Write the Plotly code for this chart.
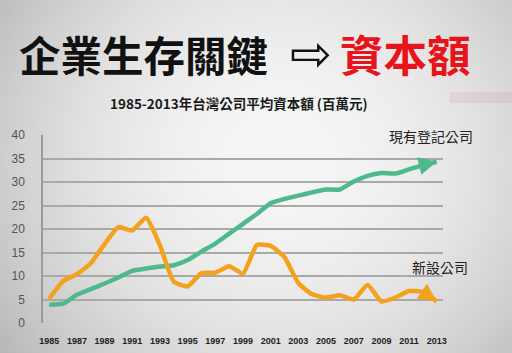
import base64, struct, zlib
import plotly.graph_objects as go

years = list(range(1985, 2014))
registered = [3.9, 4.1, 6.0, 7.2, 8.4, 9.7, 11.1, 11.6, 12.0, 12.3, 13.4, 15.2, 16.9, 19.0,
              21.1, 23.2, 25.5, 26.4, 27.1, 27.8, 28.4, 28.4, 30.1, 31.3, 31.9, 31.8, 32.7, 33.6, 34.3]
new_cos = [5.2, 8.9, 10.4, 12.7, 16.8, 20.4, 19.7, 22.4, 16.5, 8.8, 7.8, 10.6, 10.7, 12.1,
           10.5, 16.6, 16.4, 14.0, 8.5, 6.1, 5.4, 5.9, 5.0, 8.1, 4.6, 5.4, 6.8, 6.6, 4.6]
x_ticks = list(range(1985, 2014, 2))
y_ticks = list(range(0, 45, 5))

title_main = "企業生存關鍵"
title_arrow = "⇨"
title_red = "資本額"
subtitle = "1985-2013年台灣公司平均資本額 (百萬元)"
label_registered = "現有登記公司"
label_new = "新設公司"

GREEN = "#4DB98C"
ORANGE = "#F4A21E"

W, H = 512, 353
ML, MR, MT, MB = 43, 69, 135, 30
PW, PH = W - ML - MR, H - MT - MB


def px(xp):
    return (xp - ML) / PW


def py(yp):
    return (H - MB - yp) / PH


def make_png(w, h):
    rows = []
    for j in range(h):
        y = j / (h - 1)
        row = bytearray([0])
        for i in range(w):
            x = i / (w - 1)
            dx = (x - 0.55) / 0.55
            dy = (y - 0.45) / 0.55
            b = 246 - 40 * dx * dx - 22 * dy * dy
            row.append(max(0, min(255, int(b))))
        rows.append(bytes(row))
    raw = b"".join(rows)

    def chunk(t, d):
        c = struct.pack(">I", len(d)) + t + d
        return c + struct.pack(">I", zlib.crc32(t + d) & 0xFFFFFFFF)

    data = b"\x89PNG\r\n\x1a\n"
    data += chunk(b"IHDR", struct.pack(">IIBBBBB", w, h, 8, 0, 0, 0, 0))
    data += chunk(b"IDAT", zlib.compress(raw, 9))
    data += chunk(b"IEND", b"")
    return "data:image/png;base64," + base64.b64encode(data).decode()


fig = go.Figure()
fig.add_trace(go.Scatter(x=years, y=registered, mode="lines",
                         line=dict(color=GREEN, width=4.5, shape="spline", smoothing=0.5),
                         hoverinfo="skip", showlegend=False))
fig.add_trace(go.Scatter(x=years, y=new_cos, mode="lines",
                         line=dict(color=ORANGE, width=4.5, shape="spline", smoothing=0.5),
                         hoverinfo="skip", showlegend=False))

# arrow heads at series ends
for series, col in ((registered, GREEN), (new_cos, ORANGE)):
    fig.add_annotation(x=years[-1], y=series[-1], ax=years[-2] + 0.5,
                       ay=(series[-2] + series[-1]) / 2, axref="x", ayref="y",
                       xref="x", yref="y", text="", showarrow=True,
                       arrowhead=2, arrowsize=0.9, arrowwidth=4, arrowcolor=col, standoff=0)

fig.add_annotation(x=2012.6, y=39.7, xref="x", yref="y", text=label_registered,
                   showarrow=False, font=dict(family="Noto Sans CJK TC", size=14, color="#222"))
fig.add_annotation(x=2013.2, y=12.0, xref="x", yref="y", text=label_new,
                   showarrow=False, font=dict(family="Noto Sans CJK TC", size=14, color="#222"))

# titles
fig.add_annotation(x=px(17), y=py(54), xref="paper", yref="paper",
                   xanchor="left", yanchor="middle", text="<b>" + title_main + "</b>",
                   showarrow=False, font=dict(family="Noto Sans CJK TC", size=41.5, color="#111"))
fig.add_annotation(x=px(311), y=py(54), xref="paper", yref="paper",
                   xanchor="center", yanchor="middle", text=title_arrow,
                   showarrow=False, font=dict(family="DejaVu Sans", size=50, color="#111"))
fig.add_annotation(x=px(338), y=py(54), xref="paper", yref="paper",
                   xanchor="left", yanchor="middle", text="<b>" + title_red + "</b>",
                   showarrow=False, font=dict(family="Noto Sans CJK TC", size=43.5, color="#E8141B"))
fig.add_annotation(x=px(239), y=py(103), xref="paper", yref="paper",
                   xanchor="center", yanchor="middle", text="<b>" + subtitle + "</b>",
                   showarrow=False, font=dict(family="Noto Sans CJK TC", size=13.5, color="#1a1a1a"))

fig.update_layout(
    width=W, height=H,
    margin=dict(l=ML, r=MR, t=MT, b=MB),
    paper_bgcolor="#e8e8e8", plot_bgcolor="rgba(0,0,0,0)",
    images=[dict(source=make_png(128, 88), xref="paper", yref="paper", x=px(0), y=py(0),
                 sizex=W / PW, sizey=H / PH, xanchor="left", yanchor="top", sizing="stretch",
                 layer="below")],
    shapes=[dict(type="rect", xref="paper", yref="paper", x0=px(450), x1=px(512),
                 y0=py(103), y1=py(92), fillcolor="rgba(215,120,140,0.14)",
                 line=dict(width=0), layer="below")],
    xaxis=dict(range=[1984.55, 2013.45], tickvals=x_ticks, ticktext=[str(t) for t in x_ticks],
               showgrid=False, zeroline=False, showline=False, ticks="", ticklabelstandoff=11,
               automargin=False,
               tickfont=dict(family="Liberation Sans", size=9, color="#222", weight="bold")),
    yaxis=dict(range=[0, 40], tickvals=y_ticks, showgrid=True, gridcolor="#a9a9a9",
               gridwidth=1.5, zeroline=False, showline=True, linecolor="#9a9a9a",
               linewidth=1.5, ticks="", ticklabelstandoff=14, automargin=False,
               tickfont=dict(family="Liberation Sans", size=12, color="#555")),
)

fig.write_html("out.html")
